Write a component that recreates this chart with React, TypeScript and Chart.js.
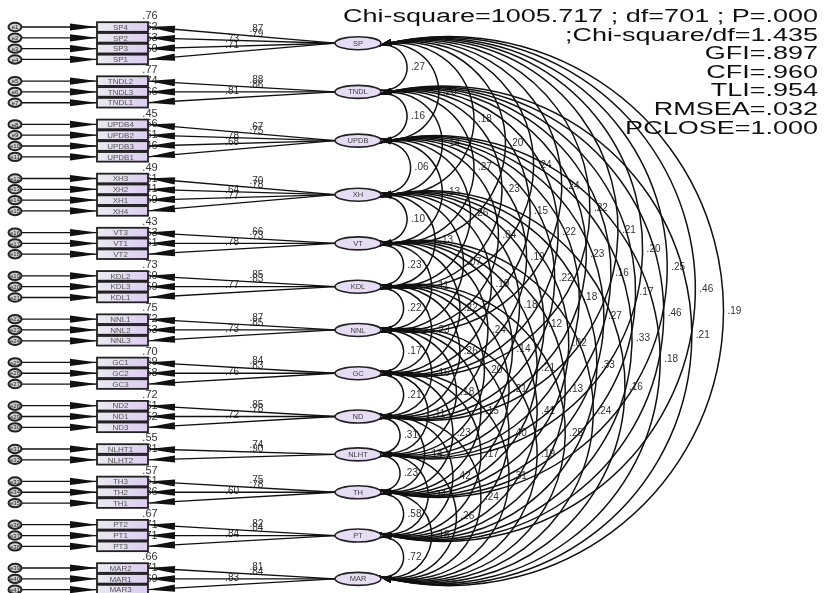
import React, { useEffect, useRef } from 'react';
import { Chart, registerables } from 'chart.js';

Chart.register(...registerables);

// ---------- data ----------
const FACTORS = ['SP', 'TNDL', 'UPDB', 'XH', 'VT', 'KDL', 'NNL', 'GC', 'ND', 'NLHT', 'TH', 'PT', 'MAR'];

const INDICATORS = [
  ['SP4', 'SP2', 'SP3', 'SP1'],
  ['TNDL2', 'TNDL3', 'TNDL1'],
  ['UPDB4', 'UPDB2', 'UPDB3', 'UPDB1'],
  ['XH3', 'XH2', 'XH1', 'XH4'],
  ['VT3', 'VT1', 'VT2'],
  ['KDL2', 'KDL3', 'KDL1'],
  ['NNL1', 'NNL2', 'NNL3'],
  ['GC1', 'GC2', 'GC3'],
  ['ND2', 'ND1', 'ND3'],
  ['NLHT1', 'NLHT2'],
  ['TH3', 'TH2', 'TH1'],
  ['PT2', 'PT1', 'PT3'],
  ['MAR2', 'MAR1', 'MAR3'],
];

const LOADINGS = [
  [0.87, 0.79, 0.73, 0.71],
  [0.88, 0.86, 0.81],
  [0.67, 0.75, 0.78, 0.68],
  [0.70, 0.78, 0.64, 0.77],
  [0.66, 0.73, 0.78],
  [0.85, 0.83, 0.77],
  [0.87, 0.85, 0.73],
  [0.84, 0.83, 0.76],
  [0.85, 0.78, 0.72],
  [0.74, 0.90],
  [0.75, 0.78, 0.60],
  [0.82, 0.84, 0.84],
  [0.81, 0.84, 0.83],
];

const R_SQUARED = [
  [0.76, 0.62, 0.53, 0.50],
  [0.77, 0.74, 0.66],
  [0.45, 0.56, 0.61, 0.46],
  [0.49, 0.61, 0.41, 0.59],
  [0.43, 0.53, 0.61],
  [0.73, 0.69, 0.59],
  [0.75, 0.72, 0.53],
  [0.70, 0.69, 0.58],
  [0.72, 0.61, 0.52],
  [0.55, 0.81],
  [0.57, 0.61, 0.36],
  [0.67, 0.71, 0.71],
  [0.66, 0.71, 0.69],
];

// correlations of each factor with the factors listed after it
const CORRELATIONS = [
  [0.27, 0.20, 0.18, 0.20, 0.24, 0.24, 0.22, 0.21, 0.20, 0.25, 0.46, 0.19],
  [0.16, 0.14, 0.27, 0.23, 0.15, 0.22, 0.23, 0.16, 0.17, 0.46, 0.21],
  [0.06, 0.13, 0.26, 0.04, 0.19, 0.22, 0.18, 0.27, 0.33, 0.18],
  [0.10, 0.13, 0.07, 0.19, 0.18, 0.12, 0.02, 0.33, 0.16],
  [0.23, 0.11, 0.22, 0.24, 0.14, 0.21, 0.13, 0.24],
  [0.22, 0.23, 0.26, 0.20, 0.21, 0.41, 0.25],
  [0.17, 0.16, 0.18, 0.15, 0.40, 0.19],
  [0.21, 0.11, 0.23, 0.17, 0.31],
  [0.31, 0.14, 0.42, 0.24],
  [0.23, 0.34, 0.26],
  [0.58, 0.18],
  [0.72],
];

const FIT_LINES = [
  'Chi-square=1005.717 ; df=701 ; P=.000',
  ';Chi-square/df=1.435',
  'GFI=.897',
  'CFI=.960',
  'TLI=.954',
  'RMSEA=.032',
  'PCLOSE=1.000',
];

// ---------- layout (columns in x-scale units) ----------
const ERR_COL = 15;
const BOX_COL = 122.5;
const FACTOR_COL = 358;

const fmt = (v: number) => v.toFixed(2).replace(/^0/, '');

// row index of each indicator (one blank row between groups)
const ROWS: number[][] = (() => {
  const out: number[][] = [];
  let r = 0;
  INDICATORS.forEach((g) => {
    out.push(g.map((_, k) => r + k));
    r += g.length + 1;
  });
  return out;
})();

const FONT = '"Liberation Sans", Arial, sans-serif';

function arrowHead(ctx: CanvasRenderingContext2D, tx: number, ty: number, dx: number, dy: number, len: number, hw: number) {
  const m = Math.hypot(dx, dy) || 1;
  const ux = dx / m, uy = dy / m;
  const bx = tx - ux * len, by = ty - uy * len;
  ctx.beginPath();
  ctx.moveTo(tx, ty);
  ctx.lineTo(bx - uy * hw, by + ux * hw);
  ctx.lineTo(bx + uy * hw, by - ux * hw);
  ctx.closePath();
  ctx.fill();
}

const semPlugin = {
  id: 'semDiagram',
  afterDatasetsDraw(chart: any) {
    const ctx: CanvasRenderingContext2D = chart.ctx;
    const fPts = chart.getDatasetMeta(0).data;
    const bPts = chart.getDatasetMeta(1).data;
    const ePts = chart.getDatasetMeta(2).data;

    const FRX = 23, FRY = 6.5;
    const BHW = 25.5, BHH = 4.8;
    const ERX = 6.5, ERY = 4.2;

    ctx.save();
    ctx.lineCap = 'butt';

    // ---- fit statistics ----
    ctx.fillStyle = '#111';
    ctx.font = `18px ${FONT}`;
    ctx.textAlign = 'right';
    ctx.textBaseline = 'middle';
    FIT_LINES.forEach((t, i) => {
      ctx.save();
      ctx.translate(818, 17 + i * 18.6);
      ctx.scale(1.5, 1);
      ctx.fillText(t, 0, 0);
      ctx.restore();
    });

    // ---- covariance labels ----
    ctx.font = `10px ${FONT}`;
    ctx.fillStyle = '#333';
    ctx.textAlign = 'left';
    ctx.textBaseline = 'middle';
    const arcs: any[] = [];
    CORRELATIONS.forEach((row, i) => {
      row.forEach((v, k) => {
        const j = i + 1 + k;
        const p1 = fPts[i], p2 = fPts[j];
        const x0 = p1.x + FRX * 0.9;
        const y1 = p1.y + 2.5, y2 = p2.y - 2.5;
        const h = (y2 - y1) / 2, ym = (y1 + y2) / 2;
        const c = 0.265 * h;
        const cx = x0 + c;
        const rad = Math.hypot(h, c);
        arcs.push({ x0, y1, y2, ym, cx, rad });
        ctx.fillText(fmt(v), cx + rad + 4, ym);
      });
    });

    // ---- R squared labels ----
    ctx.font = `11px ${FONT}`;
    ctx.textAlign = 'center';
    let n = 0;
    R_SQUARED.forEach((g) => {
      g.forEach((v) => {
        const b = bPts[n++];
        ctx.fillText(fmt(v), b.x + BHW + 2, b.y - BHH - 6);
      });
    });

    // ---- loading labels ----
    ctx.font = `10px ${FONT}`;
    n = 0;
    LOADINGS.forEach((g, gi) => {
      const f = fPts[gi];
      g.forEach((v, k) => {
        const b = bPts[n++];
        const sx = b.x + BHW, sy = b.y;
        const fx = f.x - FRX, fy = f.y;
        const t = k < 2 ? 0.58 : 0.45;
        ctx.fillText(fmt(v), sx + (fx - sx) * t, sy + (fy - sy) * t - 7);
      });
    });

    // ---- covariance arcs ----
    ctx.strokeStyle = '#111';
    ctx.fillStyle = '#111';
    ctx.lineWidth = 1.5;
    arcs.forEach((a) => {
      const a1 = Math.atan2(a.y1 - a.ym, a.x0 - a.cx);
      const a2 = Math.atan2(a.y2 - a.ym, a.x0 - a.cx);
      ctx.beginPath();
      ctx.arc(a.cx, a.ym, a.rad, a1, a2, false);
      ctx.stroke();
      arrowHead(ctx, a.x0, a.y1, Math.sin(a1), -Math.cos(a1), 13, 3.2);
      arrowHead(ctx, a.x0, a.y2, -Math.sin(a2), Math.cos(a2), 13, 3.2);
    });

    // ---- loading paths & error paths ----
    ctx.lineWidth = 1.3;
    n = 0;
    INDICATORS.forEach((g, gi) => {
      const f = fPts[gi];
      g.forEach(() => {
        const b = bPts[n];
        const e = ePts[n];
        n++;
        const sx = b.x + BHW, sy = b.y;
        const fx = f.x - FRX, fy = f.y;
        ctx.beginPath();
        ctx.moveTo(fx, fy);
        ctx.lineTo(sx, sy);
        ctx.stroke();
        arrowHead(ctx, sx, sy, sx - fx, sy - fy, 27, 3.6);
        ctx.beginPath();
        ctx.moveTo(e.x + ERX, e.y);
        ctx.lineTo(b.x - BHW, b.y);
        ctx.stroke();
        arrowHead(ctx, b.x - BHW, b.y, 1, 0, 27, 3.6);
      });
    });

    // ---- boxes ----
    n = 0;
    INDICATORS.forEach((g) => {
      g.forEach((name) => {
        const b = bPts[n++];
        const grad = ctx.createLinearGradient(b.x - BHW, 0, b.x + BHW, 0);
        grad.addColorStop(0, '#ebe9f0');
        grad.addColorStop(1, '#dccdf0');
        ctx.fillStyle = grad;
        ctx.fillRect(b.x - BHW, b.y - BHH, BHW * 2, BHH * 2);
        ctx.strokeStyle = '#222';
        ctx.lineWidth = 1.8;
        ctx.strokeRect(b.x - BHW, b.y - BHH, BHW * 2, BHH * 2);
        ctx.fillStyle = '#555';
        ctx.font = `8px ${FONT}`;
        ctx.textAlign = 'center';
        ctx.textBaseline = 'middle';
        ctx.fillText(name, b.x - 2, b.y + 0.5);
      });
    });

    // ---- error ellipses ----
    n = 0;
    INDICATORS.forEach((g) => {
      g.forEach(() => {
        const e = ePts[n++];
        ctx.beginPath();
        ctx.ellipse(e.x, e.y, ERX, ERY, 0, 0, Math.PI * 2);
        ctx.fillStyle = '#cfcfcf';
        ctx.fill();
        ctx.strokeStyle = '#222';
        ctx.lineWidth = 2;
        ctx.stroke();
        ctx.fillStyle = '#222';
        ctx.font = `6px ${FONT}`;
        ctx.fillText('e' + n, e.x, e.y + 0.5);
      });
    });

    // ---- factor ellipses ----
    FACTORS.forEach((name, i) => {
      const f = fPts[i];
      ctx.beginPath();
      ctx.ellipse(f.x, f.y, FRX, FRY, 0, 0, Math.PI * 2);
      ctx.fillStyle = '#e6dcf3';
      ctx.fill();
      ctx.strokeStyle = '#222';
      ctx.lineWidth = 1.6;
      ctx.stroke();
      ctx.fillStyle = '#444';
      ctx.font = `7.5px ${FONT}`;
      ctx.textAlign = 'center';
      ctx.textBaseline = 'middle';
      ctx.fillText(name, f.x, f.y + 0.5);
    });

    ctx.restore();
  },
};

export default function App() {
  const ref = useRef<HTMLCanvasElement | null>(null);

  useEffect(() => {
    if (!ref.current) return;
    const factorData = FACTORS.map((_, i) => ({
      x: FACTOR_COL,
      y: ROWS[i].reduce((s, v) => s + v, 0) / ROWS[i].length,
    }));
    const flatRows = ROWS.flat();
    const boxData = flatRows.map((r) => ({ x: BOX_COL, y: r }));
    const errData = flatRows.map((r) => ({ x: ERR_COL, y: r }));

    const chart = new Chart(ref.current, {
      type: 'scatter',
      data: {
        datasets: [
          { label: 'factors', data: factorData, pointRadius: 0 },
          { label: 'indicators', data: boxData, pointRadius: 0 },
          { label: 'errors', data: errData, pointRadius: 0 },
        ],
      },
      options: {
        animation: false,
        responsive: false,
        layout: { padding: 0 },
        plugins: { legend: { display: false }, tooltip: { enabled: false }, title: { display: false } },
        scales: {
          x: { type: 'linear', display: false, min: 0, max: 825 },
          y: { type: 'linear', display: false, min: -2.495, max: 52.31, reverse: true },
        },
      },
      plugins: [semPlugin],
    });
    return () => chart.destroy();
  }, []);

  return (
    <div style={{ position: 'fixed', left: 0, top: 0, width: 825, height: 593, background: '#fff' }}>
      <canvas ref={ref} width={825} height={593} />
    </div>
  );
}
